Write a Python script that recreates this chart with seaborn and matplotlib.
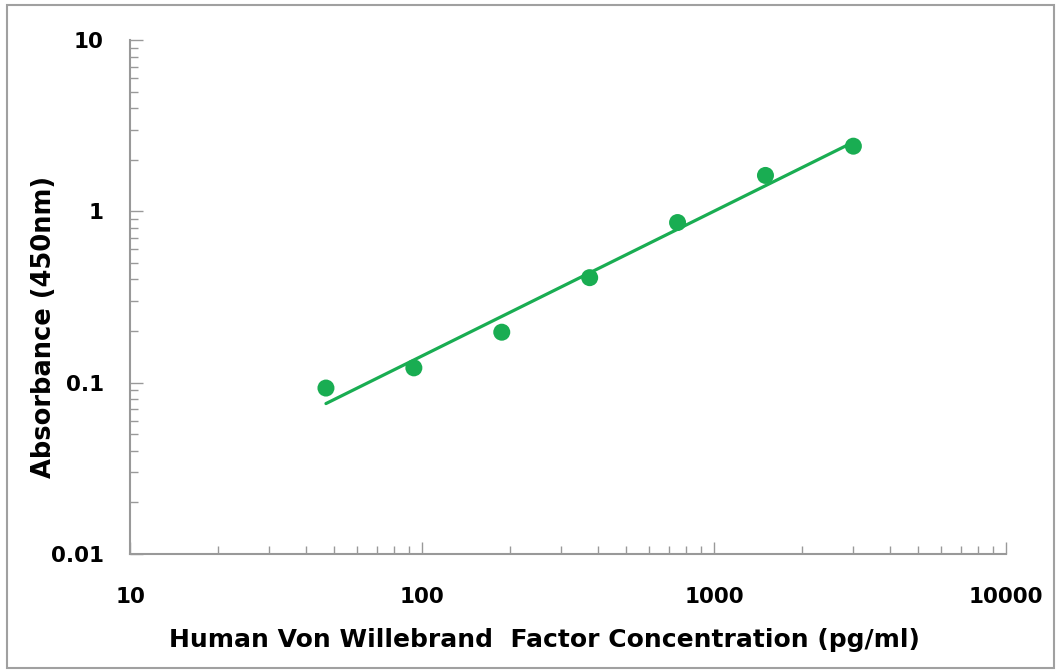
import numpy as np
import pandas as pd
import matplotlib
matplotlib.use("Agg")
import matplotlib.pyplot as plt
import seaborn as sns
from matplotlib.patches import Rectangle
from matplotlib.ticker import LogLocator, FixedLocator, NullFormatter

# === Data ===
concentration = [46.875, 93.75, 187.5, 375, 750, 1500, 3000]   # pg/ml
absorbance = [0.093, 0.122, 0.197, 0.41, 0.86, 1.62, 2.40]     # OD 450nm

x_ticks = [10, 100, 1000, 10000]
x_tick_labels = ["10", "100", "1000", "10000"]
y_ticks = [0.01, 0.1, 1, 10]
y_tick_labels = ["0.01", "0.1", "1", "10"]

green = "#19AD52"
axis_gray = "#999999"

df = pd.DataFrame({"conc": concentration, "od": absorbance})

# linear fit in log-log space (trend line)
coef = np.polyfit(np.log10(df["conc"]), np.log10(df["od"]), 1)
fit_x = np.logspace(np.log10(df["conc"].min()), np.log10(df["conc"].max()), 60)
fit_df = pd.DataFrame({"conc": fit_x, "od": 10 ** np.polyval(coef, np.log10(fit_x))})

sns.set_style("white")
plt.rcParams["font.family"] = ["DejaVu Sans"]
plt.rcParams["font.weight"] = "bold"

fig = plt.figure(figsize=(10.59, 6.71), dpi=100)
ax = fig.add_axes([0.1228, 0.1744, 0.8272, 0.7660])

sns.lineplot(data=fit_df, x="conc", y="od", ax=ax, color=green, lw=2.3, zorder=2)
sns.scatterplot(data=df, x="conc", y="od", ax=ax, color=green, s=150,
                edgecolor="none", zorder=3)

ax.set_xscale("log")
ax.set_yscale("log")
ax.set_xlim(10, 10000)
ax.set_ylim(0.01, 10)

ax.xaxis.set_major_locator(FixedLocator(x_ticks))
ax.set_xticklabels(x_tick_labels)
ax.yaxis.set_major_locator(FixedLocator(y_ticks))
ax.set_yticklabels(y_tick_labels)
ax.xaxis.set_minor_locator(LogLocator(base=10, subs=np.arange(2, 10)))
ax.yaxis.set_minor_locator(LogLocator(base=10, subs=np.arange(2, 10)))
ax.xaxis.set_minor_formatter(NullFormatter())
ax.yaxis.set_minor_formatter(NullFormatter())

ax.tick_params(axis="both", which="both", bottom=True, left=True)
ax.tick_params(axis="both", which="major", direction="in", length=9, width=1,
               color=axis_gray, labelsize=15.5, labelcolor="black")
ax.tick_params(axis="both", which="minor", direction="in", length=6, width=1,
               color=axis_gray)
ax.tick_params(axis="x", which="major", pad=24)
ax.tick_params(axis="y", which="major", pad=19)
for lab in ax.get_xticklabels() + ax.get_yticklabels():
    lab.set_fontweight("bold")

for side in ["top", "right"]:
    ax.spines[side].set_visible(False)
for side in ["left", "bottom"]:
    ax.spines[side].set_color(axis_gray)
    ax.spines[side].set_linewidth(1.5)

ax.set_xlabel("Human Von Willebrand  Factor Concentration (pg/ml)",
              fontsize=18, fontweight="bold", color="black")
ax.set_ylabel("Absorbance (450nm)", fontsize=18.5, fontweight="bold", color="black")
ax.xaxis.set_label_coords(0.473, -0.144)
ax.yaxis.set_label_coords(-0.0833, 0.442)

# outer frame around the chart
fig.patches.append(Rectangle((0.007, 0.005), 0.988, 0.988, transform=fig.transFigure,
                             fill=False, edgecolor="#A0A0A0", lw=1.5))

fig.savefig("out.png", dpi=100)
